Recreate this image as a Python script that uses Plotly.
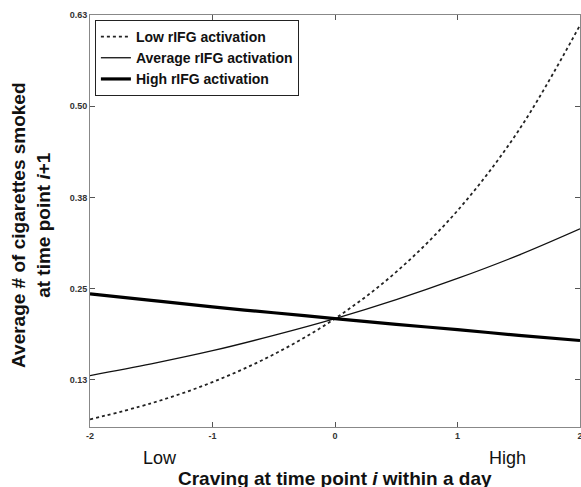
import plotly.graph_objects as go

# Data
craving = [-2, -1.5, -1, -0.5, 0, 0.5, 1, 1.5, 2]
low_rifg = [0.071, 0.093, 0.122, 0.160, 0.209, 0.273, 0.357, 0.467, 0.611]
avg_rifg = [0.131, 0.147, 0.165, 0.186, 0.209, 0.235, 0.264, 0.296, 0.332]
high_rifg = [0.243, 0.234, 0.225, 0.217, 0.209, 0.201, 0.194, 0.186, 0.179]

x_ticks = [-2, -1, 0, 1, 2]
x_ticktext = ["-2", "-1", "0", "1", "2"]
y_ticks = [0.125, 0.25, 0.375, 0.5, 0.625]
y_ticktext = ["0.13", "0.25", "0.38", "0.50", "0.63"]

FONT = "Arial, Liberation Sans, sans-serif"

fig = go.Figure()
fig.add_trace(go.Scatter(x=craving, y=low_rifg, mode="lines", name="<b>Low rIFG activation</b>",
                         line=dict(color="#222", width=1.8, dash="dot", shape="spline")))
fig.add_trace(go.Scatter(x=craving, y=avg_rifg, mode="lines", name="<b>Average rIFG activation</b>",
                         line=dict(color="#111", width=1.3, shape="spline")))
fig.add_trace(go.Scatter(x=craving, y=high_rifg, mode="lines", name="<b>High rIFG activation</b>",
                         line=dict(color="#000", width=3.2, shape="spline")))

axis_common = dict(showgrid=False, zeroline=False, showline=True, linecolor="#888",
                   linewidth=1, mirror="ticks", ticks="inside", ticklen=5,
                   tickcolor="#555", automargin=False, ticklabeloverflow="allow",
                   tickfont=dict(family=FONT, size=9, color="#333"))

fig.update_xaxes(range=[-2, 2], tickvals=x_ticks,
                 ticktext=["<b>%s</b>" % t for t in x_ticktext], **axis_common)
fig.update_yaxes(range=[0.0605, 0.625], tickvals=y_ticks,
                 ticktext=["<b>%s</b>" % t for t in y_ticktext], **axis_common)

fig.update_layout(
    width=581, height=487,
    margin=dict(l=90, r=1, t=15, b=60),
    paper_bgcolor="white", plot_bgcolor="white",
    font=dict(family=FONT, color="#111"),
    showlegend=True,
    legend=dict(x=0.01, y=0.988, xanchor="left", yanchor="top",
                bgcolor="white", bordercolor="#222", borderwidth=1,
                font=dict(family=FONT, size=14, color="#111"),
                tracegroupgap=0, itemwidth=30),
    annotations=[
        dict(text="<b>Average # of cigarettes smoked<br>at time point <i>i</i>+1</b>",
             xref="paper", yref="paper", x=(31 - 90) / 490, y=0.488,
             xanchor="center", yanchor="middle",
             textangle=-90, showarrow=False, font=dict(family=FONT, size=19, color="#111")),
        dict(text="<b>Craving at time point <i>i</i> within a day</b>",
             xref="paper", yref="paper", x=(335 - 90) / 490, y=-0.125,
             xanchor="center", yanchor="middle",
             showarrow=False, font=dict(family=FONT, size=19, color="#111")),
        dict(text="Low", xref="paper", yref="paper", x=(160 - 90) / 490, y=-0.075,
             xanchor="center", yanchor="middle", showarrow=False,
             font=dict(family=FONT, size=18, color="#111")),
        dict(text="High", xref="paper", yref="paper", x=(507 - 90) / 490, y=-0.075,
             xanchor="center", yanchor="middle", showarrow=False,
             font=dict(family=FONT, size=18, color="#111")),
    ],
)

fig.write_html("out.html", config={"displayModeBar": False},
               post_script="document.body.style.margin='0';document.body.style.overflow='hidden';")
